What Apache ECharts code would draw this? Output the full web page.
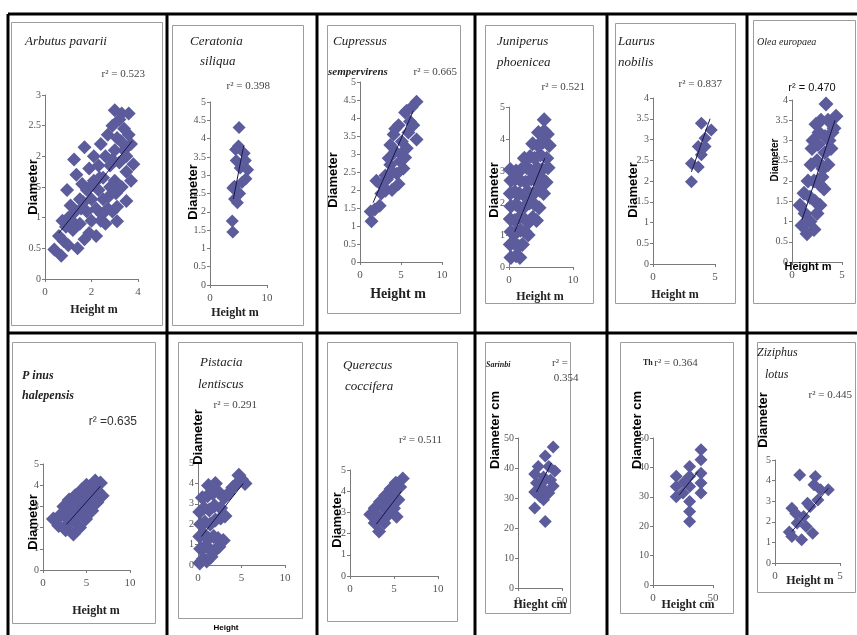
<!DOCTYPE html>
<html>
<head>
<meta charset="utf-8">
<title>Height / diameter</title>
<script src="https://cdn.jsdelivr.net/npm/echarts@6/dist/echarts.min.js"></script>
<style>
html, body { margin: 0; padding: 0; background: #fff; }
#chart { width: 857px; height: 635px; }
</style>
</head>
<body>
<div id="chart"></div>
<script>
// species and r2 as printed on each small chart
var speciesNames = ['Arbutus pavarii', 'Ceratonia siliqua', 'Cupressus sempervirens', 'Juniperus phoenicea',
    'Laurus nobilis', 'Olea europaea', 'Pinus halepensis', 'Pistacia lentiscus', 'Querecus coccifera',
    'Sarinbi', 'Thymus', 'Ziziphus lotus'];
var r2Values = ['0.523', '0.398', '0.665', '0.521', '0.837', '0.470', '0.635', '0.291', '0.511', '0.354', '0.364', '0.445'];

// height (m or cm) / diameter readings, one pair of arrays per species
var arbutusH = [0.4, 0.7, 0.6, 0.8, 0.9, 1.0, 1.0, 0.95, 1.1, 1.2, 1.3, 1.35, 1.4, 1.5, 1.5, 1.6, 1.7, 1.7, 1.8, 1.8, 1.9, 2.0, 2.0, 2.1, 2.1, 2.2, 2.3, 2.3, 2.4, 2.4, 2.5, 2.5, 2.6, 2.6, 2.7, 2.7, 2.8, 2.8, 2.9, 2.9, 3.0, 3.0, 3.0, 3.1, 3.1, 3.1, 3.2, 3.2, 3.3, 3.3, 3.4, 3.5, 3.5, 3.6, 3.6, 3.7, 3.8, 3.7, 3.4, 2.2, 1.9, 1.25, 2.9, 3.5, 1.15, 1.55, 2.35, 2.75, 3.25, 2.05, 1.65, 2.45, 3.05, 0.75];
var arbutusD = [0.48, 0.38, 0.7, 0.62, 0.85, 0.55, 1.0, 1.45, 1.2, 0.8, 1.1, 1.7, 0.5, 0.9, 1.3, 1.55, 2.15, 0.65, 1.1, 1.45, 1.8, 0.95, 1.3, 1.6, 2.0, 1.15, 1.45, 1.85, 0.95, 2.2, 1.3, 1.65, 2.0, 0.9, 1.15, 2.35, 1.5, 1.85, 2.5, 1.1, 2.75, 2.1, 1.6, 0.94, 1.18, 2.3, 1.9, 2.6, 2.7, 1.5, 2.1, 1.27, 1.75, 2.7, 2.35, 2.2, 1.87, 1.6, 2.45, 0.7, 0.75, 1.95, 1.95, 2.0, 0.95, 1.15, 1.65, 1.35, 2.25, 1.55, 1.25, 1.05, 1.4, 0.95];
var arbutusFitH = [0.6, 3.75];
var arbutusFitD = [0.75, 2.25];

var ceratoniaH = [5.1, 5.0, 4.5, 6.0, 4.6, 6.2, 5.3, 6.6, 6.3, 5.6, 4.3, 4.0, 5.2, 4.3, 4.8, 3.9, 4.0];
var ceratoniaD = [4.3, 3.8, 3.7, 3.6, 3.4, 3.4, 3.2, 3.15, 2.9, 2.8, 2.7, 2.65, 2.5, 2.35, 2.25, 1.75, 1.45];
var ceratoniaFitH = [4.1, 5.9];
var ceratoniaFitD = [2.35, 3.8];

var cupressusH = [1.4, 1.8, 2.4, 2.0, 3.1, 3.1, 3.5, 4.1, 4.7, 4.5, 4.7, 5.3, 5.5, 5.7, 5.9, 6.9, 6.9, 6.3, 5.5, 5.1, 4.3, 3.7, 3.3, 3.9, 4.9, 6.1, 5.7, 4.3, 3.7, 1.3, 2.6, 2.8, 4.0, 5.0, 6.5];
var cupressusD = [1.13, 1.46, 1.56, 2.26, 2.4, 1.98, 2.88, 3.54, 3.8, 2.45, 2.17, 2.6, 2.9, 3.16, 3.6, 3.4, 4.45, 4.3, 4.15, 3.35, 3.07, 2.7, 2.3, 2.0, 2.8, 3.9, 4.2, 3.7, 3.25, 1.4, 1.9, 2.1, 2.5, 3.0, 3.8];
var cupressusFitH = [1.6, 6.5];
var cupressusFitD = [1.65, 4.2];

var juniperusH = [0.3, 1.1, 1.7, 0.2, 0.8, 1.5, 2.1, 0.3, 1.0, 1.8, 2.5, 3.0, 0.2, 0.9, 1.6, 2.4, 3.1, 3.7, 4.3, 0.3, 1.1, 1.7, 2.5, 3.2, 4.0, 4.7, 0.2, 0.9, 1.6, 2.3, 3.0, 3.9, 4.8, 5.4, 0.3, 1.0, 1.8, 2.6, 3.5, 4.2, 5.0, 5.8, 0.2, 1.1, 1.9, 2.8, 3.5, 4.4, 5.2, 6.1, 2.4, 3.3, 4.0, 4.9, 5.9, 3.7, 4.5, 5.3, 6.3, 4.6, 5.5, 6.0, 5.5];
var juniperusD = [0.3, 0.35, 0.3, 0.7, 0.75, 0.65, 0.7, 1.1, 1.05, 1.15, 1.1, 1.0, 1.5, 1.45, 1.55, 1.5, 1.4, 1.55, 1.45, 1.9, 1.95, 1.85, 1.9, 2.0, 1.95, 1.85, 2.3, 2.35, 2.3, 2.25, 2.35, 2.3, 2.4, 2.3, 2.7, 2.75, 2.7, 2.65, 2.75, 2.7, 2.8, 2.65, 3.05, 3.0, 3.05, 3.1, 3.0, 3.1, 3.05, 3.1, 3.4, 3.45, 3.4, 3.5, 3.4, 3.85, 3.8, 3.9, 3.8, 4.2, 4.25, 4.15, 4.6];
var juniperusFitH = [0.9, 5.6];
var juniperusFitD = [1.1, 3.4];

var laurusH = [3.9, 4.7, 4.2, 3.65, 4.2, 3.9, 3.1, 3.65, 3.1];
var laurusD = [3.39, 3.23, 3.03, 2.83, 2.83, 2.63, 2.42, 2.34, 1.98];
var laurusFitH = [3.1, 4.6];
var laurusFitD = [2.22, 3.5];

var oleaH = [1.0, 1.5, 2.2, 0.8, 1.3, 1.8, 2.5, 1.2, 1.8, 2.3, 2.8, 1.6, 2.2, 2.8, 1.9, 2.5, 3.1, 2.0, 2.6, 3.3, 2.1, 2.7, 3.3, 3.6, 2.9, 3.4, 4.4, 4.0, 3.9, 3.6, 3.2, 2.4, 3.0, 3.7, 4.2];
var oleaD = [0.9, 0.7, 0.8, 1.4, 1.2, 1.0, 1.2, 1.7, 1.6, 1.5, 1.4, 2.0, 2.0, 1.9, 2.4, 2.5, 2.3, 2.8, 2.9, 2.7, 3.0, 3.2, 3.1, 3.5, 3.5, 3.9, 3.6, 3.2, 2.8, 2.4, 1.8, 3.4, 2.1, 3.0, 3.3];
var oleaFitH = [1.0, 4.3];
var oleaFitD = [1.04, 3.5];

var pinusH = [1.2, 1.8, 2.0, 2.6, 2.6, 2.4, 3.0, 3.2, 3.0, 3.5, 3.6, 3.8, 3.7, 4.2, 4.3, 4.4, 4.5, 4.9, 5.0, 5.1, 5.0, 5.6, 5.6, 5.8, 6.2, 6.3, 6.6, 6.8, 6.0];
var pinusD = [2.4, 2.1, 2.6, 1.9, 2.5, 3.0, 2.2, 2.8, 3.3, 1.7, 2.4, 3.0, 3.5, 2.0, 2.7, 3.3, 3.8, 2.4, 3.0, 3.6, 4.0, 2.8, 3.4, 3.9, 3.2, 3.7, 4.1, 3.5, 4.2];
var pinusFitH = [2.7, 6.6];
var pinusFitD = [2.15, 3.95];

var pistaciaH = [0.2, 0.6, 1.0, 1.5, 0.3, 0.8, 1.3, 1.9, 2.4, 2.9, 0.2, 0.7, 1.2, 1.8, 2.3, 0.3, 0.8, 1.4, 2.0, 2.6, 0.2, 0.7, 1.3, 1.9, 2.6, 3.1, 0.5, 1.1, 1.7, 2.3, 1.2, 2.0, 3.0, 3.5, 4.0, 4.5, 5.0, 5.4, 4.7];
var pistaciaD = [0.1, 0.3, 0.2, 0.4, 0.8, 0.9, 0.8, 0.7, 0.9, 1.2, 1.4, 1.5, 1.3, 1.4, 1.3, 2.0, 2.1, 2.0, 2.2, 2.3, 2.6, 2.8, 2.7, 2.9, 2.8, 2.4, 3.3, 3.4, 3.5, 3.6, 3.9, 4.0, 3.3, 3.5, 3.8, 4.0, 4.2, 4.0, 4.4];
var pistaciaFitH = [0.4, 5.2];
var pistaciaFitD = [1.4, 4.0];

var quercusH = [2.3, 2.8, 2.8, 3.3, 3.3, 3.4, 3.9, 3.9, 4.0, 4.4, 4.5, 4.6, 5.0, 5.0, 5.2, 5.5, 5.7, 6.0, 5.3];
var quercusD = [2.9, 2.5, 3.2, 2.1, 2.8, 3.5, 2.5, 3.2, 3.8, 2.9, 3.5, 4.1, 3.2, 3.9, 4.4, 3.6, 4.2, 4.6, 2.8];
var quercusFitH = [3.0, 5.85];
var quercusFitD = [2.45, 4.0];

var sarinbiH = [40, 31, 35, 23, 19, 42, 29, 37, 21, 40, 29, 19, 25, 35, 19, 29, 31, 27];
var sarinbiD = [47, 44, 40.5, 40.5, 38, 39, 37, 36, 35, 34, 33, 32, 30.5, 31.7, 26.7, 29.4, 22.2, 35];
var sarinbiFitH = [21, 38];
var sarinbiFitD = [32, 41.7];

var thymusH = [40, 40, 30.5, 40, 19.4, 30.5, 40, 19.4, 30.5, 40, 25, 19.4, 30.5, 30.5, 30.5, 26];
var thymusD = [46, 42.6, 40.3, 38, 37, 37, 34.7, 33.5, 33.5, 31.3, 31.3, 30, 28.4, 25, 21.6, 35];
var thymusFitH = [22, 37.5];
var thymusFitD = [30.7, 38.6];

var ziziphusH = [1.9, 3.1, 4.1, 3.3, 1.3, 2.2, 2.7, 1.7, 2.4, 1.3, 2.05, 2.9, 3.5, 1.6, 2.5, 3.0, 1.1];
var ziziphusD = [4.27, 4.2, 3.55, 3.06, 2.66, 2.26, 2.74, 1.94, 1.77, 1.29, 1.13, 1.45, 3.55, 2.4, 2.9, 3.8, 1.5];
var ziziphusFitH = [1.3, 4.1];
var ziziphusFitD = [1.53, 3.63];

// axis ranges [min, max, interval]
var xRanges = [[0, 4, 2], [0, 10, 10], [0, 10, 5], [0, 10, 10], [0, 5, 5], [0, 5, 5],
    [0, 10, 5], [0, 10, 5], [0, 10, 5], [0, 50, 50], [0, 50, 50], [0, 5, 5]];
var yRanges = [[0, 3, 0.5], [0, 5, 0.5], [0, 5, 0.5], [0, 5, 1], [0, 4, 0.5], [0, 4, 0.5],
    [0, 5, 1], [0, 5, 1], [0, 5, 1], [0, 50, 10], [0, 50, 10], [0, 5, 1]];

var heights = [arbutusH, ceratoniaH, cupressusH, juniperusH, laurusH, oleaH, pinusH, pistaciaH, quercusH, sarinbiH, thymusH, ziziphusH];
var diameters = [arbutusD, ceratoniaD, cupressusD, juniperusD, laurusD, oleaD, pinusD, pistaciaD, quercusD, sarinbiD, thymusD, ziziphusD];
var fitHs = [arbutusFitH, ceratoniaFitH, cupressusFitH, juniperusFitH, laurusFitH, oleaFitH, pinusFitH, pistaciaFitH, quercusFitH, sarinbiFitH, thymusFitH, ziziphusFitH];
var fitDs = [arbutusFitD, ceratoniaFitD, cupressusFitD, juniperusFitD, laurusFitD, oleaFitD, pinusFitD, pistaciaFitD, quercusFitD, sarinbiFitD, thymusFitD, ziziphusFitD];

// layout: plot rect [left, top, width, height], grey chart frame, diamond size
var plotRects = [[45, 95, 93, 184], [210, 102, 57, 183], [360, 82, 82, 180], [509, 107, 64, 160],
    [653, 98, 62, 166], [792, 100, 50, 162], [43, 464, 87, 106], [198, 463, 87, 102],
    [350, 470, 88, 106], [518, 438, 44, 150], [653, 438, 60, 147], [775, 460, 65, 103]];
var frames = [[11, 22, 151, 303], [172, 25, 131, 300], [327, 25, 133, 288], [485, 25, 108, 278],
    [615, 23, 120, 280], [753, 20, 102, 283], [12, 342, 143, 281], [178, 342, 124, 276],
    [327, 342, 130, 279], [485, 342, 85, 271], [620, 342, 113, 271], [757, 342, 98, 250]];
var markSizes = [14, 13, 14, 15, 13, 15, 15, 15, 14, 13, 13, 13];

var TITLE = 'italic 13px "Liberation Serif"';
var R2 = '11px "Liberation Serif"';
var DIAM = 'bold 13px "Liberation Sans"';
var HGT = 'bold 12px "Liberation Serif"';

function txt(x, y, s, font, align, rot, color) {
    return {
        type: 'text', x: x, y: y, rotation: rot || 0, silent: true, z: 10,
        style: {
            text: s, font: font, fill: color || '#222',
            align: align || 'left', textAlign: align || 'left',
            verticalAlign: 'middle', textVerticalAlign: 'middle'
        }
    };
}

var texts = [
    // top row
    txt(25, 42, 'Arbutus pavarii', TITLE),
    txt(145, 74, 'r\u00b2 = ' + r2Values[0], R2, 'right', 0, '#444'),
    txt(33, 187, 'Diameter', DIAM, 'center', Math.PI / 2, '#000'),
    txt(94, 310, 'Height m', HGT, 'center'),

    txt(190, 42, 'Ceratonia', TITLE),
    txt(200, 62, 'siliqua', TITLE),
    txt(270, 86, 'r\u00b2 = ' + r2Values[1], R2, 'right', 0, '#444'),
    txt(193, 192, 'Diameter', DIAM, 'center', Math.PI / 2, '#000'),
    txt(235, 313, 'Height m', HGT, 'center'),

    txt(333, 42, 'Cupressus', TITLE),
    txt(328, 72, 'sempervirens', 'bold italic 11px "Liberation Serif"'),
    txt(457, 72, 'r\u00b2 = ' + r2Values[2], R2, 'right', 0, '#444'),
    txt(333, 180, 'Diameter', DIAM, 'center', Math.PI / 2, '#000'),
    txt(398, 294, 'Height m', 'bold 14px "Liberation Serif"', 'center'),

    txt(497, 42, 'Juniperus', TITLE),
    txt(497, 63, 'phoenicea', TITLE),
    txt(585, 87, 'r\u00b2 = ' + r2Values[3], R2, 'right', 0, '#444'),
    txt(494, 190, 'Diameter', DIAM, 'center', Math.PI / 2, '#000'),
    txt(540, 297, 'Height m', HGT, 'center'),

    txt(618, 42, 'Laurus', TITLE),
    txt(618, 63, 'nobilis', TITLE),
    txt(722, 84, 'r\u00b2 = ' + r2Values[4], R2, 'right', 0, '#444'),
    txt(633, 190, 'Diameter', DIAM, 'center', Math.PI / 2, '#000'),
    txt(675, 295, 'Height m', HGT, 'center'),

    txt(757, 42, 'Olea europaea', 'italic 10px "Liberation Serif"'),
    txt(812, 88, 'r\u00b2 = ' + r2Values[5], '11px "Liberation Sans"', 'center', 0, '#111'),
    txt(775, 160, 'Diameter', 'bold 10px "Liberation Sans"', 'center', Math.PI / 2, '#000'),
    txt(808, 267, 'Height m', 'bold 11px "Liberation Sans"', 'center', 0, '#000'),

    // bottom row
    txt(22, 376, 'P inus', 'bold italic 12px "Liberation Serif"'),
    txt(22, 396, 'halepensis', 'bold italic 12px "Liberation Serif"'),
    txt(137, 422, 'r\u00b2 =0.635', '12px "Liberation Sans"', 'right', 0, '#333'),
    txt(33, 522, 'Diameter', DIAM, 'center', Math.PI / 2, '#000'),
    txt(96, 611, 'Height m', HGT, 'center'),

    txt(200, 363, 'Pistacia', TITLE),
    txt(198, 385, 'lentiscus', TITLE),
    txt(257, 405, 'r\u00b2 = ' + r2Values[7], R2, 'right', 0, '#444'),
    txt(198, 437, 'Diameter', DIAM, 'center', Math.PI / 2, '#000'),
    txt(226, 628, 'Height', 'bold 8px "Liberation Sans"', 'center', 0, '#000'),

    txt(343, 366, 'Querecus', TITLE),
    txt(345, 387, 'coccifera', TITLE),
    txt(442, 440, 'r\u00b2 = ' + r2Values[8], R2, 'right', 0, '#444'),
    txt(337, 520, 'Diameter', DIAM, 'center', Math.PI / 2, '#000'),

    txt(486, 365, 'Sarinbi', 'bold italic 8px "Liberation Serif"'),
    txt(560, 363, 'r\u00b2 =', R2, 'center', 0, '#444'),
    txt(566, 378, r2Values[9], R2, 'center', 0, '#444'),
    txt(495, 430, 'Diameter cm', DIAM, 'center', Math.PI / 2, '#000'),
    txt(540, 605, 'Hieght cm', HGT, 'center'),

    txt(643, 363, 'Th', 'bold 8px "Liberation Serif"'),
    txt(676, 363, 'r\u00b2 = ' + r2Values[10], R2, 'center', 0, '#444'),
    txt(637, 430, 'Diameter cm', DIAM, 'center', Math.PI / 2, '#000'),
    txt(688, 605, 'Height cm', HGT, 'center'),

    txt(757, 353, 'Ziziphus', 'italic 12px "Liberation Serif"'),
    txt(765, 375, 'lotus', 'italic 12px "Liberation Serif"'),
    txt(852, 395, 'r\u00b2 = ' + r2Values[11], R2, 'right', 0, '#444'),
    txt(763, 420, 'Diameter', DIAM, 'center', Math.PI / 2, '#000'),
    txt(810, 581, 'Height m', HGT, 'center')
];

// the black table lines and the grey Excel chart frames
var shapes = [];
frames.forEach(function (f) {
    shapes.push({
        type: 'rect', silent: true, z: 0,
        shape: { x: f[0] + 0.5, y: f[1] + 0.5, width: f[2], height: f[3] },
        style: { fill: 'none', stroke: '#9c9c9c', lineWidth: 1 }
    });
});
var blackLines = [[8, 14, 857, 14], [8, 333, 857, 333], [8, 14, 8, 635], [167, 14, 167, 635],
    [317, 14, 317, 635], [475, 14, 475, 635], [607, 14, 607, 635], [747, 14, 747, 635]];
blackLines.forEach(function (l) {
    shapes.push({
        type: 'line', silent: true, z: 1,
        shape: { x1: l[0], y1: l[1], x2: l[2], y2: l[3] },
        style: { stroke: '#000', lineWidth: 3 }
    });
});

var myChart = echarts.init(document.getElementById('chart'));

var grids = [], xAxes = [], yAxes = [], series = [];
heights.forEach(function (h, i) {
    var r = plotRects[i];
    grids.push({ left: r[0], top: r[1], width: r[2], height: r[3], outerBoundsMode: 'none' });
    var axisBase = {
        type: 'value',
        gridIndex: i,
        splitLine: { show: false },
        axisLine: { show: true, onZero: false, lineStyle: { color: '#7a7a7a', width: 1 } },
        axisTick: { show: true, length: 3, lineStyle: { color: '#7a7a7a' } },
        axisLabel: { fontSize: 10, fontFamily: 'Liberation Serif', color: '#555', margin: 4 }
    };
    xAxes.push(Object.assign({}, axisBase, {
        min: xRanges[i][0], max: xRanges[i][1], interval: xRanges[i][2],
        axisLabel: Object.assign({}, axisBase.axisLabel, { fontSize: 11, margin: 8 })
    }));
    yAxes.push(Object.assign({}, axisBase, {
        min: yRanges[i][0], max: yRanges[i][1], interval: yRanges[i][2]
    }));
    var pts = h.map(function (v, k) { return [v, diameters[i][k]]; });
    series.push({
        name: speciesNames[i],
        type: 'scatter',
        xAxisIndex: i, yAxisIndex: i,
        symbol: 'diamond',
        symbolSize: markSizes[i],
        itemStyle: { color: '#5c5c9c', opacity: 1 },
        data: pts
    });
    series.push({
        name: speciesNames[i] + ' fit',
        type: 'line',
        xAxisIndex: i, yAxisIndex: i,
        symbol: 'none',
        lineStyle: { color: '#16164a', width: 1 },
        z: 5,
        data: fitHs[i].map(function (v, k) { return [v, fitDs[i][k]]; })
    });
});

var option = {
    animation: false,
    backgroundColor: '#fff',
    grid: grids,
    xAxis: xAxes,
    yAxis: yAxes,
    series: series,
    graphic: shapes.concat(texts)
};

myChart.setOption(option);
</script>
</body>
</html>
